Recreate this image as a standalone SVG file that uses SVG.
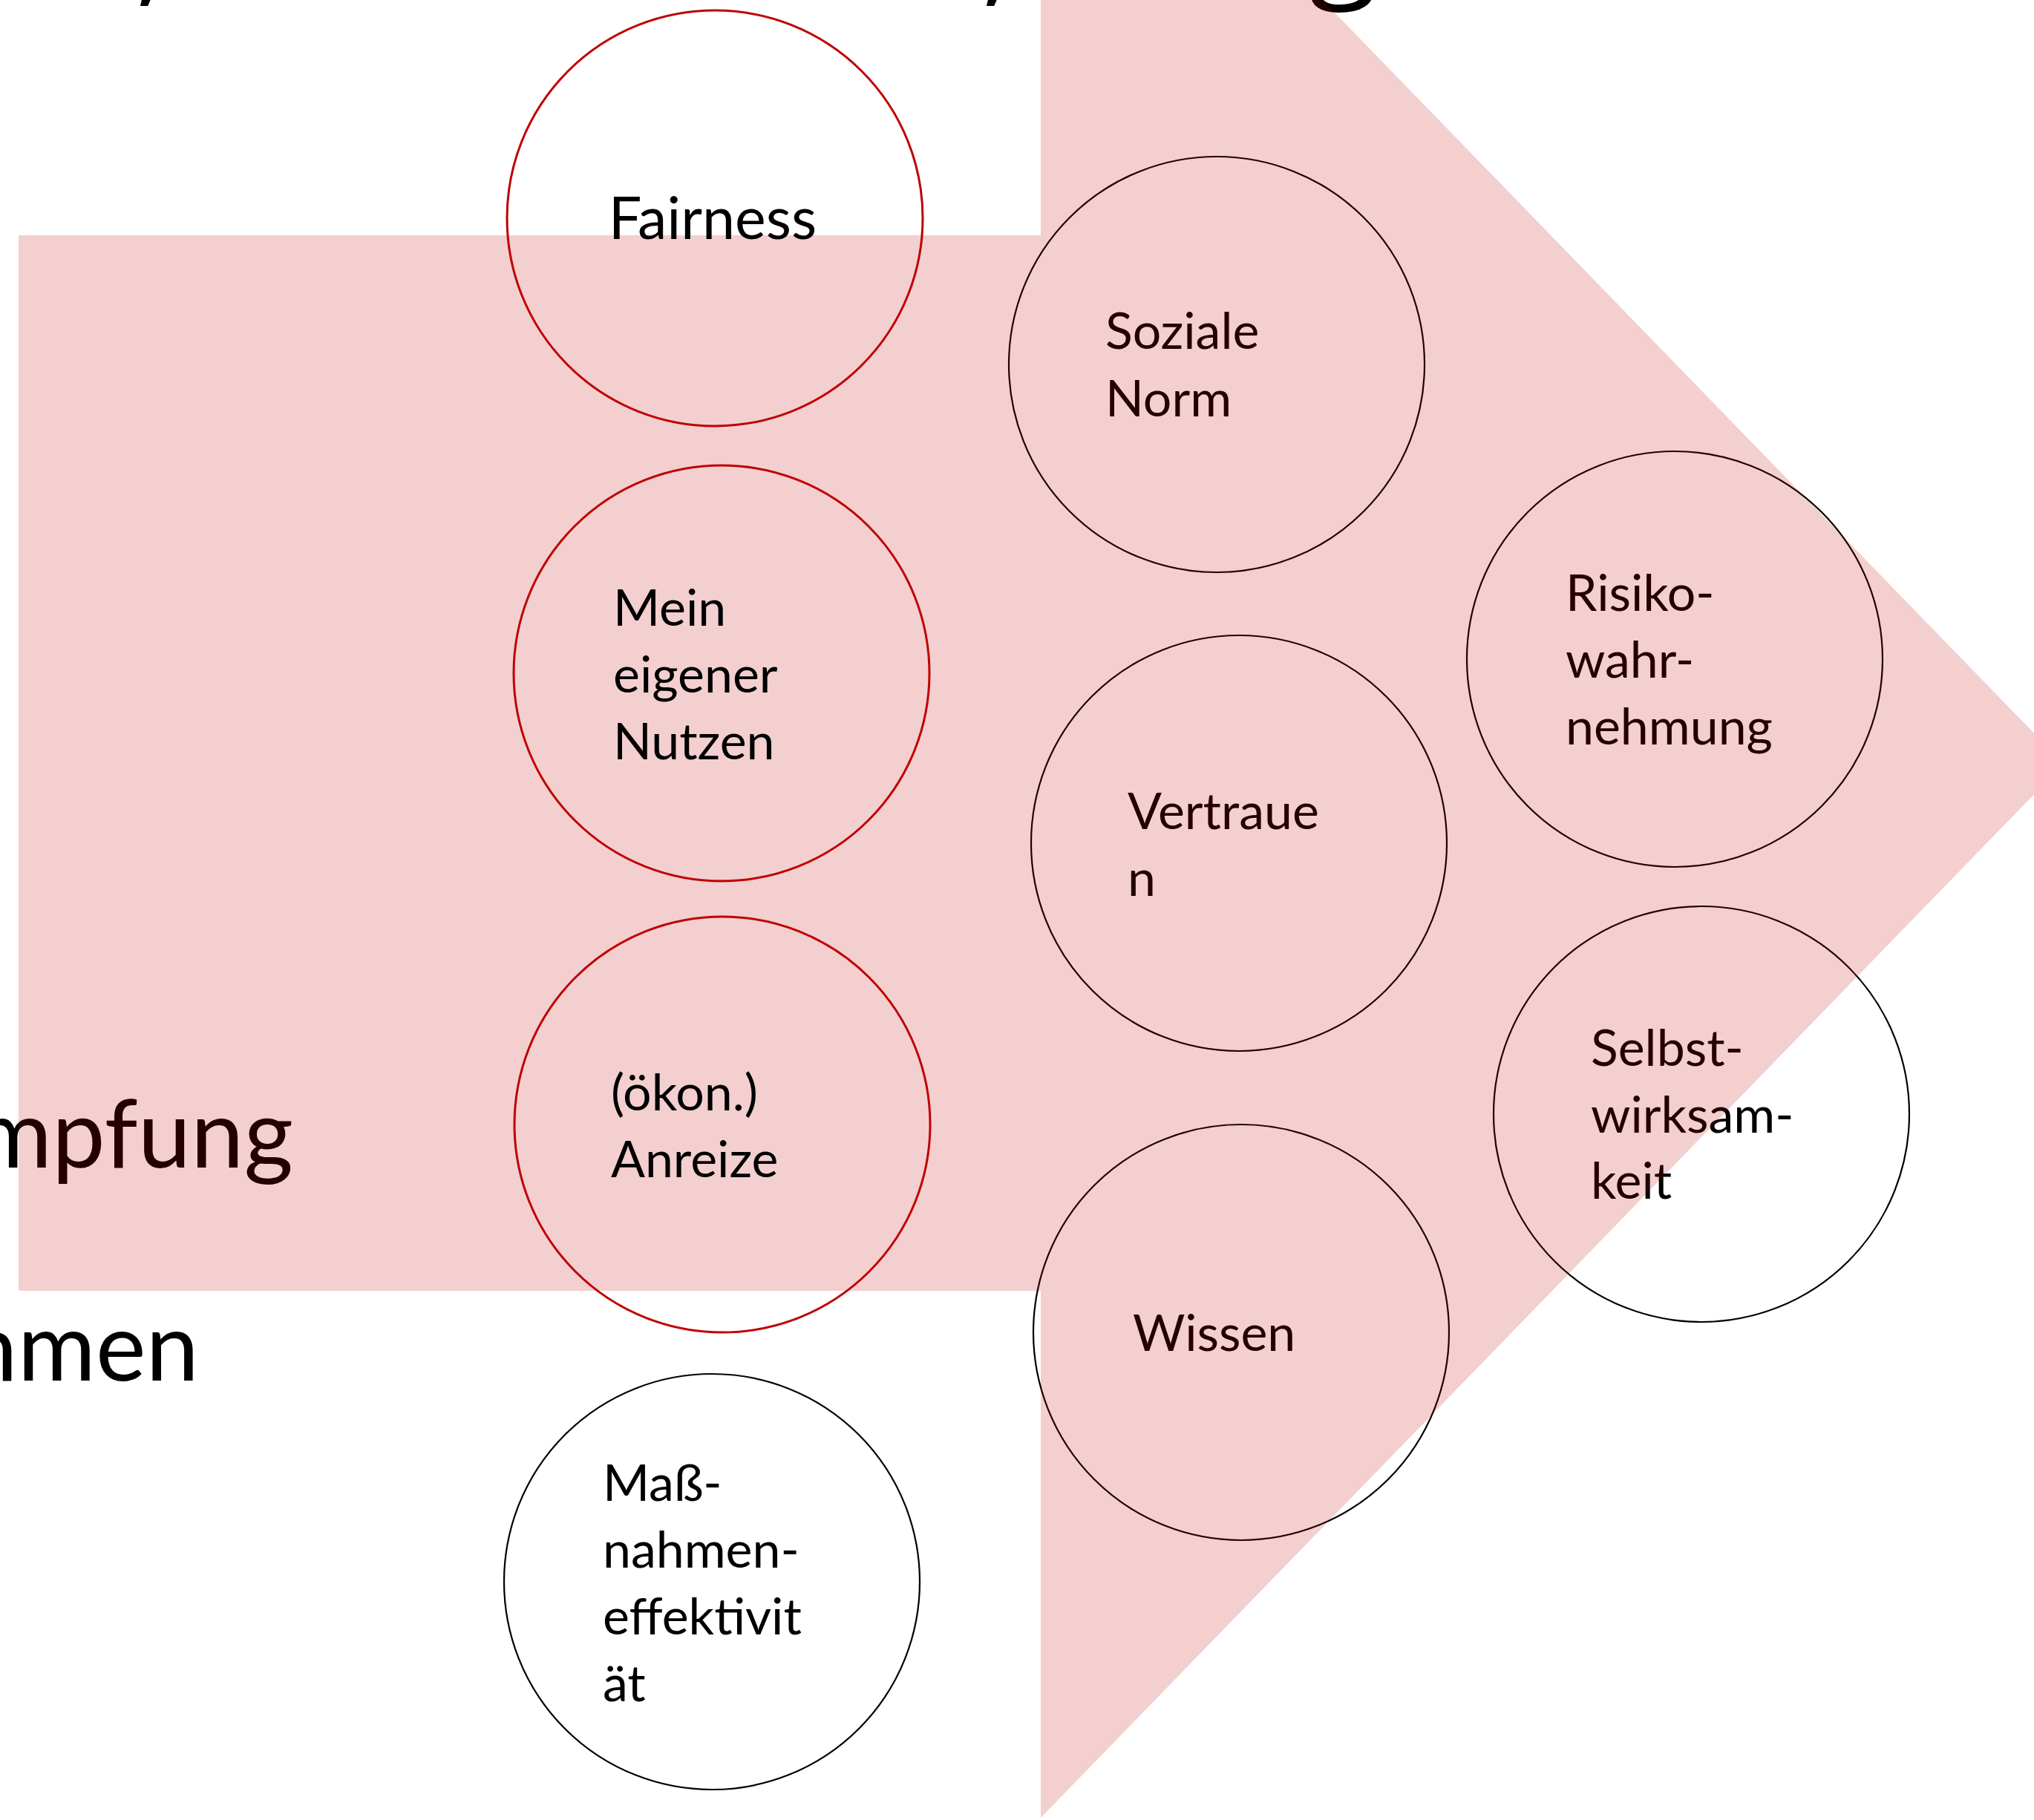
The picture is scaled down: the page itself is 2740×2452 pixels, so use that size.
<svg xmlns="http://www.w3.org/2000/svg" width="2740" height="2452" viewBox="0 0 2740 2452">
  <style>
    .lbl { font-family: Lato, "Open Sans", "Liberation Sans", sans-serif; font-size: 68px; fill: #000; }
    .big { font-family: Lato, "Open Sans", "Liberation Sans", sans-serif; font-size: 128px; fill: #000; }
    .title { font-family: "Open Sans", "Noto Sans", sans-serif; font-size: 170px; fill: #000; }
    .ring-dark { fill: none; stroke: #000; stroke-width: 2.2; }
    .ring-red { fill: none; stroke: #C00000; stroke-width: 3; }
    .arrow { fill: #C00000; fill-opacity: 0.19; }
  </style>
  <rect width="2740" height="2452" fill="#fff"/>

  <!-- descenders of the heading line that runs above the top edge -->
  <g id="heading">
    <text class="title" x="182" y="-14">,</text>
    <text class="title" x="1322" y="-14">,</text>
    <text class="title" x="1763" y="-24">g</text>
  </g>

  <!-- side captions partly cut at the left edge -->
  <g id="captions">
    <text class="big" x="395" y="1573" text-anchor="end">mpfung</text>
    <text class="big" x="268" y="1860" text-anchor="end">hmen</text>
  </g>

  <!-- factors sitting beneath the big arrow -->
  <g id="soziale-norm">
    <circle class="ring-dark" cx="1639" cy="491" r="280"/>
    <text class="lbl"><tspan x="1489" y="470">Soziale</tspan><tspan x="1489" y="561">Norm</tspan></text>
  </g>
  <g id="vertrauen">
    <circle class="ring-dark" cx="1669" cy="1136" r="280"/>
    <text class="lbl"><tspan x="1519" y="1117">Vertraue</tspan><tspan x="1519" y="1207">n</tspan></text>
  </g>
  <g id="wissen">
    <circle class="ring-dark" cx="1672" cy="1795" r="280"/>
    <text class="lbl" x="1526" y="1820">Wissen</text>
  </g>
  <g id="risikowahrnehmung">
    <circle class="ring-dark" cx="2256" cy="888" r="280"/>
    <text class="lbl"><tspan x="2109" y="823">Risiko-</tspan><tspan x="2109" y="913">wahr-</tspan><tspan x="2109" y="1003">nehmung</tspan></text>
  </g>
  <g id="selbstwirksamkeit">
    <circle class="ring-dark" cx="2292" cy="1501" r="280"/>
    <text class="lbl"><tspan x="2143" y="1436">Selbst-</tspan><tspan x="2143" y="1526">wirksam-</tspan><tspan x="2143" y="1615">keit</tspan></text>
  </g>

  <!-- big translucent arrow -->
  <g id="arrow">
    <polygon class="arrow" points="25,317 1402,317 1402,-391 2780,1029 1402,2449 1402,1739 25,1739"/>
  </g>

  <!-- factors drawn over the arrow -->
  <g id="fairness">
    <circle class="ring-red" cx="963" cy="294" r="280"/>
    <text class="lbl" x="960" y="322" text-anchor="middle" style="font-size:79px">Fairness</text>
  </g>
  <g id="eigener-nutzen">
    <circle class="ring-red" cx="972" cy="907" r="280"/>
    <text class="lbl"><tspan x="826" y="843">Mein</tspan><tspan x="826" y="933">eigener</tspan><tspan x="826" y="1023">Nutzen</tspan></text>
  </g>
  <g id="anreize">
    <circle class="ring-red" cx="973" cy="1515" r="280"/>
    <text class="lbl"><tspan x="823" y="1496">(ökon.)</tspan><tspan x="823" y="1586">Anreize</tspan></text>
  </g>
  <g id="massnahmeneffektivitaet">
    <circle class="ring-dark" cx="959" cy="2131" r="280"/>
    <text class="lbl"><tspan x="812" y="2022">Maß-</tspan><tspan x="812" y="2112">nahmen-</tspan><tspan x="812" y="2202">effektivit</tspan><tspan x="812" y="2292">ät</tspan></text>
  </g>
</svg>
